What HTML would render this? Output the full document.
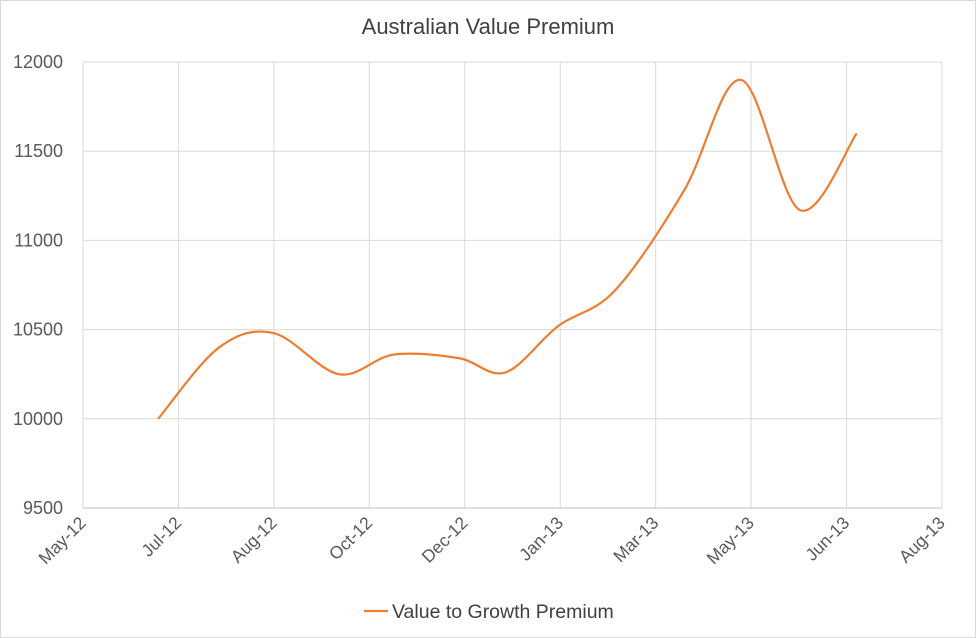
<!DOCTYPE html>
<html><head><meta charset="utf-8"><style>
body{margin:0;background:#fff}
svg{display:block;font-family:"Liberation Sans",sans-serif}
</style></head><body>
<svg id="c" width="976" height="638">
<rect x="0.5" y="0.5" width="975" height="637" fill="#fff" stroke="#d9d9d9"/>
<text x="488" y="34" text-anchor="middle" font-size="22" fill="#404040">Australian Value Premium</text>
<g id="grid"></g><g id="axes"></g><g id="series"></g>
<g>
<line x1="364" y1="611" x2="388" y2="611" stroke="#ed7d31" stroke-width="2.2"/>
<text x="392" y="618" font-size="19.5" fill="#404040">Value to Growth Premium</text>
</g>
</svg>
<script>
const xTickLabels=["May-12","Jul-12","Aug-12","Oct-12","Dec-12","Jan-13","Mar-13","May-13","Jun-13","Aug-13"];
const yTicks=[9500,10000,10500,11000,11500,12000];
const dayValues=[37,67,94,126,153,185,208,234,262,296,324,353,381];
const premiumValues=[10000,10400,10480,10250,10360,10340,10260,10520,10720,11280,11900,11170,11600];
const X0=83,X1=942,Y0=508,Y1=62,SPAN=423,TICKSTEP=47;
const sx=d=>X0+(d/SPAN)*(X1-X0);
const sy=v=>Y0-(v-9500)/(12000-9500)*(Y0-Y1);
const NS="http://www.w3.org/2000/svg";
function mk(t,a,p){const e=document.createElementNS(NS,t);for(const k in a)e.setAttribute(k,a[k]);p.appendChild(e);return e;}
const grid=document.getElementById('grid'),axes=document.getElementById('axes'),ser=document.getElementById('series');
yTicks.forEach(v=>{
 const l=mk('line',{x1:X0,x2:X1,y1:sy(v),y2:sy(v),stroke:'#d9d9d9'},grid);
 
 
 const t=mk('text',{x:X0-20,y:sy(v)+6,'text-anchor':'end','font-size':18,fill:'#595959'},axes);
 t.textContent=v;
 
 
});
xTickLabels.forEach((s,i)=>{
 const x=sx(i*TICKSTEP);
 const l=mk('line',{x1:x,x2:x,y1:Y1,y2:Y0,stroke:'#d9d9d9'},grid);
 
 
 const t=mk('text',{x:x+4,y:Y0+16,'text-anchor':'end','font-size':17.5,fill:'#595959',transform:`rotate(-45 ${x+4} ${Y0+16})`},axes);
 t.textContent=s;
 
 
});
const ax=mk('line',{x1:X0,x2:X1,y1:Y0,y2:Y0,stroke:'#bfbfbf'},axes);


const pts=dayValues.map((d,i)=>[sx(d),sy(premiumValues[i])]);
let p=`M${pts[0][0]},${pts[0][1]}`;
for(let i=0;i<pts.length-1;i++){
 const p0=pts[i-1]||pts[i],p1=pts[i],p2=pts[i+1],p3=pts[i+2]||p2,k=6;
 p+=` C${p1[0]+(p2[0]-p0[0])/k},${p1[1]+(p2[1]-p0[1])/k} ${p2[0]-(p3[0]-p1[0])/k},${p2[1]-(p3[1]-p1[1])/k} ${p2[0]},${p2[1]}`;
}
const path=mk('path',{d:p,fill:'none',stroke:'#ed7d31','stroke-width':2.2},ser);


</script>
</body></html>
